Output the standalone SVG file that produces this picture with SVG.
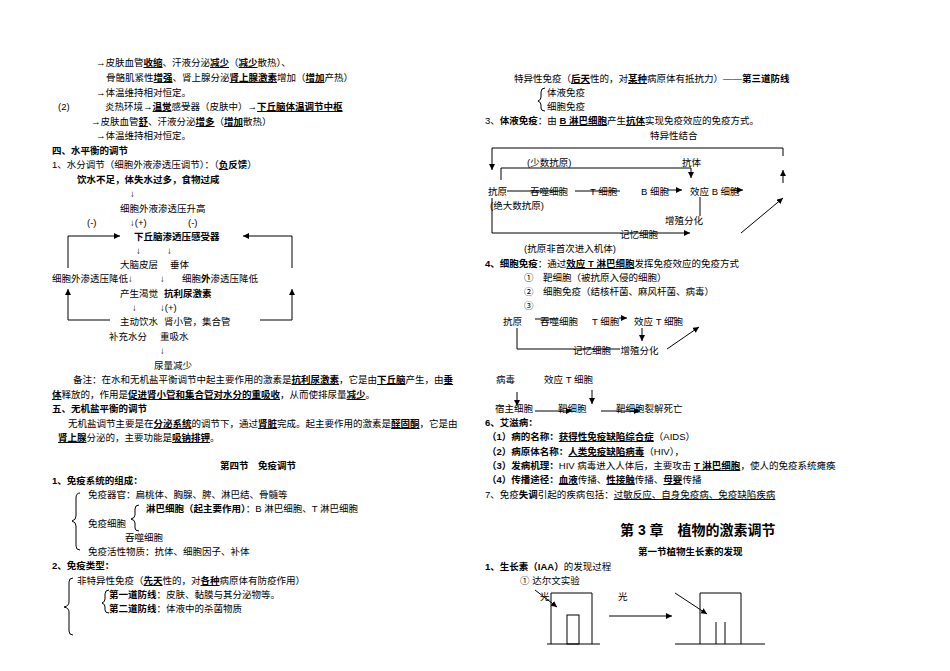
<svg xmlns="http://www.w3.org/2000/svg" width="950" height="671" viewBox="0 0 950 671">
<defs>
<marker id="a" markerWidth="7" markerHeight="7" refX="6" refY="3" orient="auto" markerUnits="userSpaceOnUse"><path d="M0,0L6,3L0,6z" fill="#000"/></marker>
<style>
text{font-family:"Liberation Sans","Noto Sans CJK SC",sans-serif;font-size:9.5px;fill:#000}
.b{font-weight:bold}.u{text-decoration:underline;font-weight:bold}.ul{text-decoration:underline}
.t{font-size:14px;font-weight:bold}
line,path.l,polyline{stroke:#000;stroke-width:1;fill:none}
</style>
</defs>
<rect width="950" height="671" fill="#fff"/>
<g id="left">
<text x="96" y="66">→皮肤血管<tspan class="u">收缩</tspan>、汗液分泌<tspan class="u">减少</tspan>（<tspan class="u">减少</tspan>散热）、</text>
<text x="106" y="81">骨骼肌紧性<tspan class="u">增强</tspan>、肾上腺分泌<tspan class="u">肾上腺激素</tspan>增加（<tspan class="u">增加</tspan>产热）</text>
<text x="96" y="96">→体温维持相对恒定。</text>
<text x="58" y="110">(2)</text>
<text x="105" y="110">炎热环境→<tspan class="u">温觉</tspan>感受器（皮肤中）→<tspan class="u">下丘脑体温调节中枢</tspan></text>
<text x="91" y="125">→皮肤血管<tspan class="u">舒</tspan>、汗液分泌<tspan class="u">增多</tspan>（<tspan class="u">增加</tspan>散热）</text>
<text x="96" y="139">→体温维持相对恒定。</text>
<text x="52" y="154" class="b">四、水平衡的调节</text>
<text x="52" y="168">1、水分调节（细胞外液渗透压调节）：（<tspan class="u">负</tspan><tspan class="b">反馈</tspan>）</text>
<text x="77" y="183" class="b">饮水不足，体失水过多，食物过咸</text>
<text x="130" y="197">↓</text>
<text x="120" y="212">细胞外液渗透压升高</text>
<text x="87" y="226">(-)</text><text x="130" y="226">↓(+)</text><text x="188" y="226">(-)</text>
<text x="134" y="240" class="b">下丘脑渗透压感受器</text>
<text x="136" y="254">↓</text><text x="167" y="254">↓</text>
<text x="120" y="268">大脑皮层</text><text x="170" y="268">垂体</text>
<text x="52" y="282">细胞外渗透压降低↓</text><text x="160" y="282">↓</text><text x="182" y="282">细胞<tspan class="b">外</tspan>渗透压降低</text>
<text x="120" y="297">产生渴觉</text><text x="164" y="297" class="b">抗利尿激素</text>
<text x="132" y="311">↓</text><text x="160" y="311">↓(+)</text>
<text x="120" y="325">主动饮水</text><text x="164" y="325">肾小管，集合管</text>
<text x="109" y="340">补充水分</text><text x="160" y="340">重吸水</text>
<text x="160" y="354">↓</text>
<text x="154" y="369">尿量减少</text>
<text x="73" y="383">备注：在水和无机盐平衡调节中起主要作用的激素是<tspan class="u">抗利尿激素</tspan>，它是由<tspan class="u">下丘脑</tspan>产生，由<tspan class="u">垂</tspan></text>
<text x="52" y="398"><tspan class="u">体</tspan>释放的，作用是<tspan class="u">促进肾小管和集合管对水分的重吸收</tspan>，从而使排尿量<tspan class="u">减少</tspan>。</text>
<text x="52" y="412" class="b">五、无机盐平衡的调节</text>
<text x="68" y="427">无机盐调节主要是在<tspan class="u">分泌系统</tspan>的调节下，通过<tspan class="u">肾脏</tspan>完成。起主要作用的激素是<tspan class="u">醛固酮</tspan>，它是由</text>
<text x="58" y="441"><tspan class="u">肾上腺</tspan>分泌的，主要功能是<tspan class="u">吸钠排钾</tspan>。</text>
<text x="220" y="469" class="b">第四节　免疫调节</text>
<text x="52" y="484" class="b">1、免疫系统的组成：</text>
<text x="88" y="498">免疫器官：扁桃体、胸腺、脾、淋巴结、骨髓等</text>
<text x="146" y="512"><tspan class="b">淋巴细胞（起主要作用）</tspan>：B 淋巴细胞、T 淋巴细胞</text>
<text x="88" y="527">免疫细胞</text>
<text x="125" y="541">吞噬细胞</text>
<text x="88" y="555">免疫活性物质：抗体、细胞因子、补体</text>
<text x="52" y="569" class="b">2、免疫类型：</text>
<text x="77" y="584">非特异性免疫（<tspan class="u">先天</tspan>性的，对<tspan class="u">各种</tspan>病原体有防疫作用）</text>
<text x="109" y="598"><tspan class="b">第一道防线</tspan>：皮肤、黏膜与其分泌物等。</text>
<text x="109" y="612"><tspan class="b">第二道防线</tspan>：体液中的杀菌物质</text>
</g>
<g id="connectors">
<polyline points="68,268 68,236 120,236" marker-end="url(#a)"/>
<polyline points="110,320 68,320 68,289" marker-end="url(#a)"/>
<polyline points="292,268 292,236 243,236" marker-end="url(#a)"/>
<polyline points="260,320 292,320 292,289" marker-end="url(#a)"/>
<path class="l" d="M80,493 Q76,493 76,498 L76,516 Q76,520 72,521 Q76,522 76,526 L76,546 Q76,550 80,550"/>
<path class="l" d="M139,505 Q135,505 135,509 L135,515 Q135,518 131,519 Q135,520 135,523 L135,528 Q135,531 139,531"/>
<path class="l" d="M73,578 Q69,578 69,582 L69,602 Q69,606 64,607 Q69,608 69,612 L69,631 Q69,635 73,635"/>
<path class="l" d="M109,590 Q105,590 105,594 L105,599 Q105,602 102,603 Q105,604 105,607 L105,610 Q105,613 109,613"/>
<path class="l" d="M545,88 Q541,88 541,92 L541,97 Q541,100 538,101 Q541,102 541,105 L541,108 Q541,111 545,111"/>
<polyline points="783,156 783,148 492,148 492,170" marker-end="url(#a)"/>
<polyline points="501,180 501,168 691,168 691,178" marker-end="url(#a)"/>
<line x1="507" y1="191" x2="560" y2="191"/>
<line x1="575" y1="191" x2="620" y2="191"/>
<line x1="667" y1="190" x2="682" y2="190" marker-end="url(#a)"/>
<line x1="730" y1="190" x2="743" y2="190" marker-end="url(#a)"/>
<line x1="783" y1="183" x2="783" y2="170" marker-end="url(#a)"/>
<line x1="700" y1="197" x2="700" y2="216"/>
<polyline points="492,198 492,233 690,233" marker-end="url(#a)"/>
<line x1="741" y1="233" x2="783" y2="198" marker-end="url(#a)"/>
<line x1="535" y1="319" x2="558" y2="319"/>
<line x1="619" y1="318" x2="627" y2="318" marker-end="url(#a)"/>
<line x1="672" y1="318" x2="675" y2="318"/>
<line x1="642" y1="328" x2="642" y2="341" marker-end="url(#a)"/>
<polyline points="517,328 517,349 620,349"/>
<line x1="667" y1="349" x2="699" y2="327" marker-end="url(#a)"/>
<line x1="517" y1="392" x2="517" y2="406" marker-end="url(#a)"/>
<line x1="592" y1="390" x2="592" y2="404" marker-end="url(#a)"/>
<line x1="535" y1="411" x2="572" y2="411" marker-end="url(#a)"/>
<line x1="601" y1="411" x2="640" y2="411" marker-end="url(#a)"/>
<line x1="535" y1="590" x2="557" y2="607" marker-end="url(#a)"/>
<line x1="609" y1="616" x2="672" y2="616" marker-end="url(#a)"/>
<line x1="675" y1="593" x2="707" y2="614" marker-end="url(#a)"/>
<polyline points="551,644 551,593 592,593 592,644"/>
<line x1="547" y1="644" x2="600" y2="644"/>
<rect x="567" y="615" width="12" height="29" fill="none" stroke="#000"/>
<polyline points="700,644 700,593 741,593 741,644"/>
<line x1="675" y1="644" x2="765" y2="644"/>
<line x1="716" y1="622" x2="716" y2="644"/>
<line x1="725" y1="622" x2="725" y2="644"/>
</g>
<g id="right">
<text x="514" y="82">特异性免疫（<tspan class="u">后天</tspan>性的，对<tspan class="u">某种</tspan>病原体有抵抗力）——<tspan class="b">第三道防线</tspan></text>
<text x="547" y="96">体液免疫</text>
<text x="547" y="110">细胞免疫</text>
<text x="485" y="124">3、<tspan class="b">体液免疫</tspan>：由 <tspan class="u">B 淋巴细胞</tspan>产生<tspan class="u">抗体</tspan>实现免疫效应的免疫方式。</text>
<text x="650" y="139">特异性结合</text>
<text x="527" y="166">(少数抗原)</text><text x="682" y="166">抗体</text>
<text x="488" y="195">抗原</text><text x="530" y="195">吞噬细胞</text><text x="590" y="195">T 细胞</text><text x="641" y="195">B 细胞</text><text x="690" y="195">效应 B 细胞</text>
<text x="490" y="209">(绝大数抗原)</text>
<text x="665" y="224">增殖分化</text>
<text x="620" y="238">记忆细胞</text>
<text x="524" y="252">(抗原非首次进入机体)</text>
<text x="485" y="267"><tspan class="b">4、细胞免疫</tspan>：通过<tspan class="u">效应 T 淋巴细胞</tspan>发挥免疫效应的免疫方式</text>
<text x="524" y="281">①　靶细胞（被抗原入侵的细胞）</text>
<text x="524" y="295">②　细胞免疫（结核杆菌、麻风杆菌、病毒）</text>
<text x="524" y="309">③</text>
<text x="503" y="325">抗原</text><text x="540" y="325">吞噬细胞</text><text x="592" y="325">T 细胞</text><text x="634" y="325">效应 T 细胞</text>
<text x="573" y="354">记忆细胞　增殖分化</text>
<text x="496" y="383">病毒</text><text x="544" y="383">效应 T 细胞</text>
<text x="495" y="412">宿主细胞</text><text x="558" y="412">靶细胞</text><text x="616" y="412">靶细胞裂解死亡</text>
<text x="485" y="426" class="b">6、艾滋病：</text>
<text x="487" y="440"><tspan class="b">（1）病的名称：</tspan><tspan class="u">获得性免疫缺陷综合症</tspan>（AIDS）</text>
<text x="487" y="455"><tspan class="b">（2）病原体名称：</tspan><tspan class="u">人类免疫缺陷病毒</tspan>（HIV），</text>
<text x="487" y="469"><tspan class="b">（3）发病机理：</tspan>HIV 病毒进入人体后，主要攻击 <tspan class="u">T 淋巴细胞</tspan>，使人的免疫系统瘫痪</text>
<text x="487" y="483"><tspan class="b">（4）传播途径：</tspan><tspan class="u">血液</tspan>传播、<tspan class="u">性接触</tspan>传播、<tspan class="u">母婴</tspan>传播</text>
<text x="485" y="498">7、免疫<tspan class="b">失调</tspan>引起的疾病包括：<tspan class="ul">过敏反应、自身免疫病、免疫缺陷疾病</tspan></text>
<text x="620" y="535" class="t">第 3 章　植物的激素调节</text>
<text x="638" y="555" class="b">第一节植物生长素的发现</text>
<text x="485" y="570"><tspan class="b">1、生长素（IAA）</tspan>的发现过程</text>
<text x="520" y="584">① 达尔文实验</text>
<text x="540" y="600">光</text>
<text x="618" y="600">光</text>
</g>
</svg>
